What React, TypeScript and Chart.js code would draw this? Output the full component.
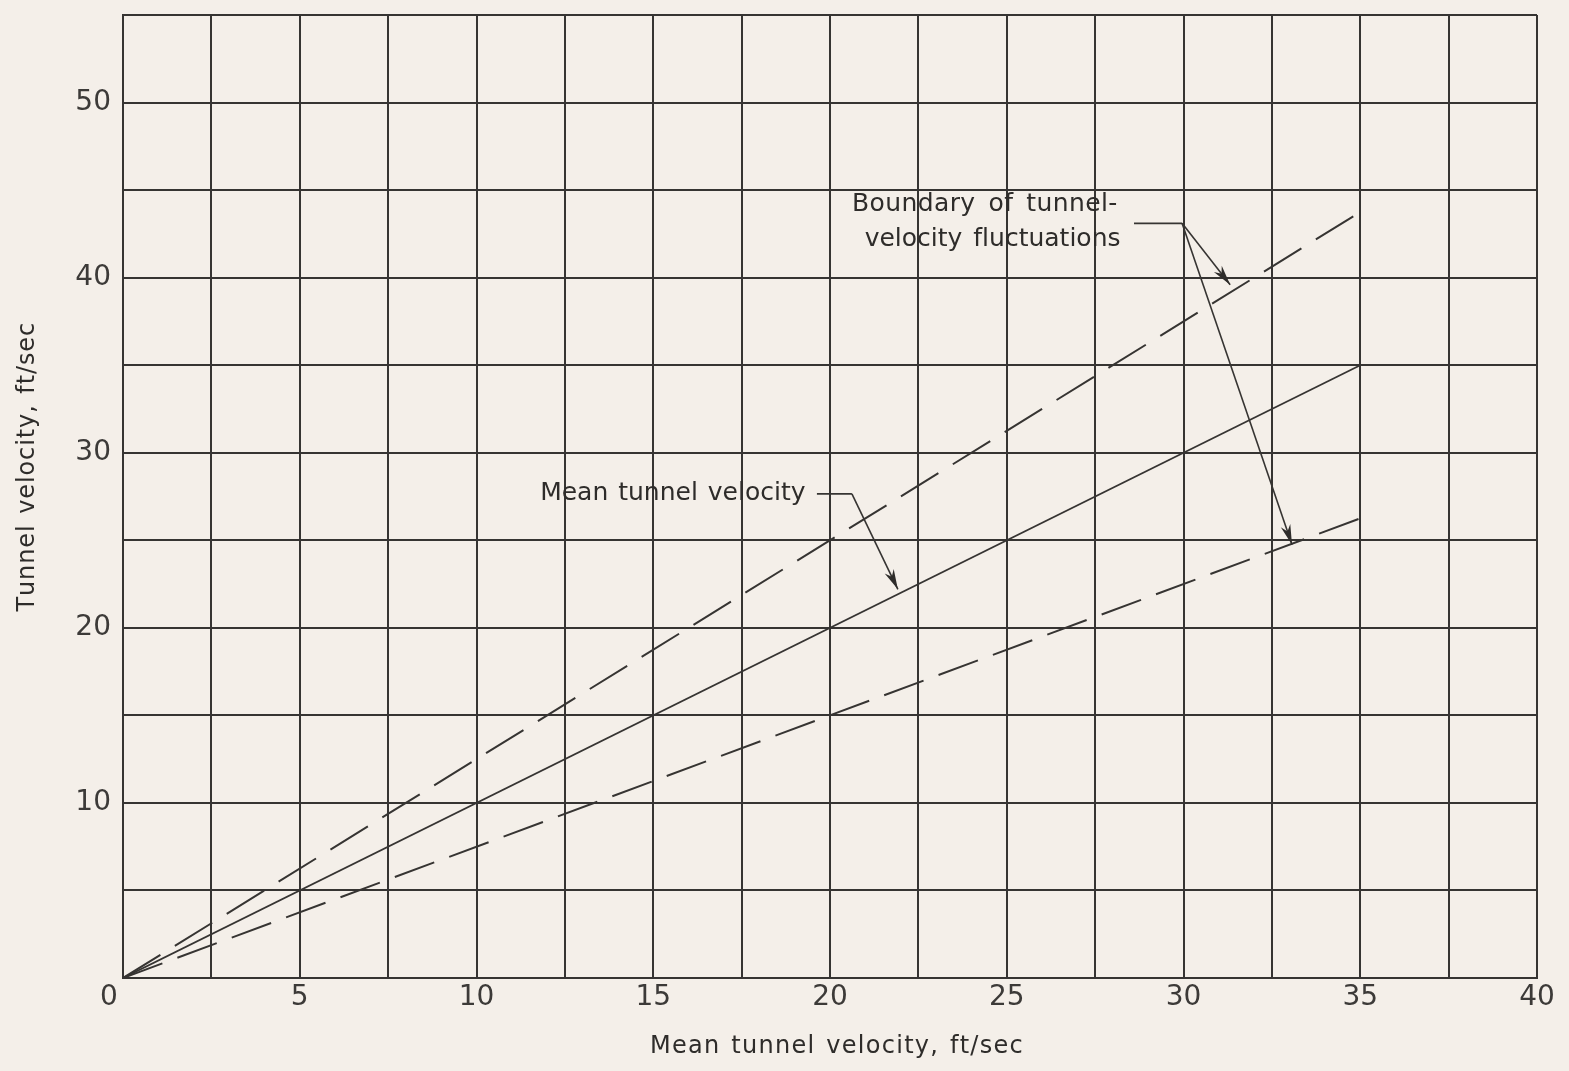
import React, { useEffect, useRef } from "react";
import { Chart, registerables } from "chart.js";

Chart.register(...registerables);

// ---- data ----
const lineX = [0, 35];
const meanY = [0, 35];
const upperY = [0, 43.75];
const lowerY = [0, 26.25];

const xTickLabels = [0, 5, 10, 15, 20, 25, 30, 35, 40];
const yTickLabels = [10, 20, 30, 40, 50];

const xTitle = "Mean tunnel velocity, ft/sec";
const yTitle = "Tunnel velocity, ft/sec";

const boundaryText = ["Boundary of tunnel-", "velocity fluctuations"];
const meanText = "Mean tunnel velocity";

// annotation anchors in data units
const xTitleCenterX = 20.2;
const yTitleCenterY = 29.2;
const boundaryTextPos = [
  { x: 20.62, y: 44.2 },
  { x: 20.98, y: 42.2 },
];
const boundaryLeader = [
  { x: 28.6, y: 43.1 },
  { x: 29.96, y: 43.1 },
];
const boundaryArrowEnds = [
  { x: 31.32, y: 39.6 },
  { x: 33.07, y: 24.75 },
];
const meanTextPos = { x: 11.8, y: 27.65 };
const meanLeader = [
  { x: 19.63, y: 27.65 },
  { x: 20.62, y: 27.65 },
];
const meanArrowEnd = { x: 21.92, y: 22.2 };

const INK = "#363432";
const TEXT = "#2e2c2a";
const BG = "#f4efe9";
const FONT = "'DejaVu Sans', sans-serif";

const toPts = (xs: number[], ys: number[]) => xs.map((x, i) => ({ x, y: ys[i] }));

function drawArrow(ctx: CanvasRenderingContext2D, x0: number, y0: number, x1: number, y1: number) {
  ctx.beginPath();
  ctx.moveTo(x0, y0);
  ctx.lineTo(x1, y1);
  ctx.stroke();
  const ang = Math.atan2(y1 - y0, x1 - x0);
  const len = 20;
  const hw = 5;
  const bx = x1 - len * Math.cos(ang);
  const by = y1 - len * Math.sin(ang);
  const px = -Math.sin(ang) * hw;
  const py = Math.cos(ang) * hw;
  ctx.beginPath();
  ctx.moveTo(x1, y1);
  ctx.lineTo(bx + px, by + py);
  ctx.lineTo(x1 - len * 0.7 * Math.cos(ang), y1 - len * 0.7 * Math.sin(ang));
  ctx.lineTo(bx - px, by - py);
  ctx.closePath();
  ctx.fill();
}

function spacedWidth(ctx: CanvasRenderingContext2D, text: string, ls: number, gap: number) {
  const words = text.split(" ");
  let w = 0;
  words.forEach((wd, i) => {
    for (const ch of wd) w += ctx.measureText(ch).width + ls;
    if (i < words.length - 1) w += ctx.measureText(" ").width + gap;
  });
  return w;
}
function drawSpaced(ctx: CanvasRenderingContext2D, text: string, x: number, y: number, ls: number, gap: number) {
  const words = text.split(" ");
  let cx = x;
  words.forEach((wd, i) => {
    for (const ch of wd) {
      ctx.fillText(ch, cx, y);
      cx += ctx.measureText(ch).width + ls;
    }
    if (i < words.length - 1) cx += ctx.measureText(" ").width + gap;
  });
}

const annotationPlugin = {
  id: "annotations",
  afterDatasetsDraw(chart: any) {
    const { ctx, scales } = chart;
    const xs = scales.x;
    const ys = scales.y;
    const px = (p: { x: number; y: number }) => [xs.getPixelForValue(p.x), ys.getPixelForValue(p.y)];
    ctx.save();
    ctx.fillStyle = TEXT;
    ctx.strokeStyle = INK;
    ctx.lineWidth = 1.6;
    ctx.textBaseline = "middle";
    ctx.textAlign = "left";

    // axis titles
    ctx.font = `24px ${FONT}`;
    {
      const w = spacedWidth(ctx, xTitle, 1.3, 3);
      const cx = xs.getPixelForValue(xTitleCenterX);
      drawSpaced(ctx, xTitle, cx - w / 2, 1047, 1.3, 3);
    }
    {
      const w = spacedWidth(ctx, yTitle, 0.9, 3);
      const cy = ys.getPixelForValue(yTitleCenterY);
      ctx.save();
      ctx.translate(28, cy);
      ctx.rotate(-Math.PI / 2);
      drawSpaced(ctx, yTitle, -w / 2, 0, 0.9, 3);
      ctx.restore();
    }

    // annotation texts
    ctx.font = `25px ${FONT}`;
    boundaryText.forEach((t, i) => {
      const [x, y] = px(boundaryTextPos[i]);
      drawSpaced(ctx, t, x, y, i === 0 ? 0.4 : 0, i === 0 ? 5 : 3);
    });
    {
      const [x, y] = px(meanTextPos);
      drawSpaced(ctx, meanText, x, y, 0, 2);
    }
    const [lx0, ly0] = px(boundaryLeader[0]);
    const [lx1, ly1] = px(boundaryLeader[1]);
    ctx.beginPath();
    ctx.moveTo(lx0, ly0);
    ctx.lineTo(lx1, ly1);
    ctx.stroke();
    boundaryArrowEnds.forEach((p) => {
      const [ex, ey] = px(p);
      drawArrow(ctx, lx1, ly1, ex, ey);
    });
    const [mx0, my0] = px(meanLeader[0]);
    const [mx1, my1] = px(meanLeader[1]);
    ctx.beginPath();
    ctx.moveTo(mx0, my0);
    ctx.lineTo(mx1, my1);
    ctx.stroke();
    const [mex, mey] = px(meanArrowEnd);
    drawArrow(ctx, mx1, my1, mex, mey);
    ctx.restore();
  },
};

export default function App() {
  const ref = useRef<HTMLCanvasElement | null>(null);
  useEffect(() => {
    if (!ref.current) return;
    const chart = new Chart(ref.current, {
      type: "line",
      data: {
        datasets: [
          {
            label: "Upper boundary",
            data: toPts(lineX, upperY),
            borderColor: INK,
            borderWidth: 2,
            borderDash: [44, 17],
            pointRadius: 0,
            fill: false,
          },
          {
            label: "Mean tunnel velocity",
            data: toPts(lineX, meanY),
            borderColor: INK,
            borderWidth: 1.8,
            pointRadius: 0,
            fill: false,
          },
          {
            label: "Lower boundary",
            data: toPts(lineX, lowerY),
            borderColor: INK,
            borderWidth: 2,
            borderDash: [42, 16],
            pointRadius: 0,
            fill: false,
          },
        ],
      },
      options: {
        animation: false,
        responsive: false,
        devicePixelRatio: 1,
        layout: { padding: { left: 0, top: 15, right: 32, bottom: 0 } },
        plugins: { legend: { display: false }, tooltip: { enabled: false } },
        scales: {
          x: {
            type: "linear",
            min: 0,
            max: 40,
            afterFit: (s: any) => {
              s.height = 93;
              s.paddingLeft = 0;
              s.paddingRight = 0;
            },
            ticks: {
              stepSize: 2.5,
              autoSkip: false,
              maxRotation: 0,
              padding: 3,
              color: "#3c3a38",
              font: { family: FONT, size: 28 },
              callback: (v: any) => {
                const n = Number(v);
                if (!xTickLabels.includes(n)) return "";
                return n === 0 ? "0\u2002\u2002" : String(n);
              },
            },
            grid: { color: INK, lineWidth: 2, drawTicks: false },
            border: { color: INK, width: 2 },
            title: { display: false, text: xTitle },
          },
          y: {
            type: "linear",
            min: 0,
            max: 55,
            afterFit: (s: any) => {
              s.width = 123;
              s.paddingTop = 0;
              s.paddingBottom = 0;
            },
            ticks: {
              stepSize: 5,
              autoSkip: false,
              padding: 12,
              color: "#3c3a38",
              font: { family: FONT, size: 28 },
              callback: (v: any) => (yTickLabels.includes(Number(v)) ? String(v) : ""),
            },
            grid: { color: INK, lineWidth: 2, drawTicks: false },
            border: { color: INK, width: 2 },
            title: { display: false, text: yTitle },
          },
        },
      },
      plugins: [annotationPlugin],
    });
    return () => chart.destroy();
  }, []);
  return (
    <div style={{ position: "fixed", left: 0, top: 0, width: 1569, height: 1071, background: BG }}>
      <canvas ref={ref} width={1569} height={1071} style={{ display: "block", width: 1569, height: 1071 }} />
    </div>
  );
}
